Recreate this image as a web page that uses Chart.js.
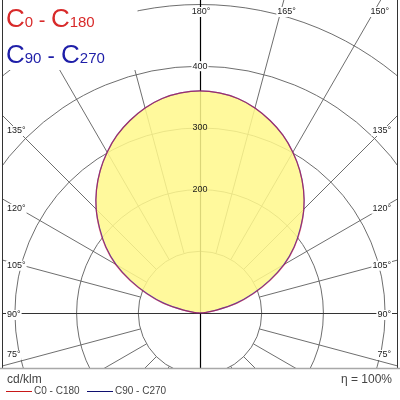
<!DOCTYPE html>
<html><head><meta charset="utf-8">
<script src="https://cdn.jsdelivr.net/npm/chart.js@4.4.0/dist/chart.umd.min.js"></script>
<style>html,body{margin:0;padding:0;background:#fff;}#wrap{width:400px;height:400px;position:relative;}</style>
</head><body>
<div id="wrap"><canvas id="c" width="400" height="400"></canvas></div>
<script>
// ---- data ----
const gammaDeg = [90, 95, 100, 105, 110, 115, 120, 125, 130, 135, 140, 145, 150, 155, 160, 165, 170, 175, 180];
const c0c180   = [0, 8, 29, 63, 93, 126, 159, 187, 213, 238, 261, 282, 301, 318, 332, 344, 353, 358, 360];
const c90c270  = [0, 7, 27, 60, 91, 124, 157, 186, 212, 238, 261, 282, 301, 318, 332, 344, 353, 358, 360];
const ringValues = [100, 200, 300, 400, 500];
const ringLabelValues = [200, 300, 400];
const angleLabelValues = [75, 90, 105, 120, 135, 150, 165, 180];
const seriesNames = ['C0 - C180', 'C90 - C270'];
const unitLabel = 'cd/klm';
const efficiencyLabel = 'η = 100%';

// ---- layout ----
const CX = 200, CY = 313, PX_PER_UNIT = 0.617;
const FRAME = {left: 2.5, right: 397.5, bottom: 368.5};
const RED = '#d82a2a', BLUE = '#1e1ea8';
const FONT = '"Liberation Sans", Arial, sans-serif';

function polarLoop(vals) {
  const pts = [];
  for (let i = 0; i < gammaDeg.length; i++) {
    const g = gammaDeg[i] * Math.PI / 180;
    pts.push({x: -vals[i] * Math.sin(g), y: -vals[i] * Math.cos(g)});
  }
  for (let i = gammaDeg.length - 2; i >= 0; i--) {
    const g = gammaDeg[i] * Math.PI / 180;
    pts.push({x: vals[i] * Math.sin(g), y: -vals[i] * Math.cos(g)});
  }
  return pts;
}

const gridPlugin = {
  id: 'polarGrid',
  beforeDraw(chart) {
    const ctx = chart.ctx, xs = chart.scales.x, ys = chart.scales.y;
    const cx = xs.getPixelForValue(0), cy = ys.getPixelForValue(0);
    const k = xs.getPixelForValue(1) - cx;
    ctx.save();
    ctx.fillStyle = '#fff'; ctx.fillRect(0, 0, chart.width, chart.height);
    ctx.beginPath(); ctx.rect(FRAME.left, 0, FRAME.right - FRAME.left, FRAME.bottom); ctx.clip();
    ctx.strokeStyle = '#5e5e5e'; ctx.lineWidth = 0.9;
    ringValues.forEach(v => { ctx.beginPath(); ctx.arc(cx, cy, v * k, 0, Math.PI * 2); ctx.stroke(); });
    ctx.beginPath();
    for (let g = 15; g < 180; g += 15) {
      if (g === 90) continue;
      const a = g * Math.PI / 180;
      for (const s of [-1, 1]) {
        const dx = s * Math.sin(a), dy = Math.cos(a);
        const r0 = ringValues[0] * k, r1 = 1000;
        ctx.moveTo(cx + dx * r0, cy + dy * r0);
        ctx.lineTo(cx + dx * r1, cy + dy * r1);
      }
    }
    ctx.stroke();
    ctx.strokeStyle = '#333'; ctx.lineWidth = 1;
    ctx.beginPath(); ctx.moveTo(0, cy + 0.5); ctx.lineTo(chart.width, cy + 0.5); ctx.stroke();
    ctx.strokeStyle = '#000'; ctx.lineWidth = 1.2;
    ctx.beginPath(); ctx.moveTo(cx + 0.5, 0); ctx.lineTo(cx + 0.5, chart.height); ctx.stroke();
    ctx.restore();
    // frame
    ctx.save();
    ctx.strokeStyle = '#333'; ctx.lineWidth = 1;
    ctx.beginPath();
    ctx.moveTo(FRAME.left, 0); ctx.lineTo(FRAME.left, FRAME.bottom);
    ctx.moveTo(FRAME.right, 0); ctx.lineTo(FRAME.right, FRAME.bottom);
    ctx.stroke();
    ctx.strokeStyle = '#a8a8a8'; ctx.lineWidth = 1.5;
    ctx.beginPath(); ctx.moveTo(0, FRAME.bottom); ctx.lineTo(chart.width, FRAME.bottom); ctx.stroke();
    ctx.restore();
  }
};

function label(ctx, text, x, y, align, bg) {
  ctx.font = '9px ' + FONT;
  const w = ctx.measureText(text).width;
  const x0 = align === 'left' ? x : align === 'right' ? x - w : x - w / 2;
  if (bg) { ctx.fillStyle = bg; ctx.fillRect(x0 - 1, y - 5, w + 2, 10); }
  ctx.fillStyle = '#1a1a1a'; ctx.textAlign = 'left'; ctx.textBaseline = 'middle';
  ctx.fillText(text, x0, y);
}

const labelPlugin = {
  id: 'polarLabels',
  afterDatasetsDraw(chart) {
    const ctx = chart.ctx, xs = chart.scales.x, ys = chart.scales.y;
    const cx = xs.getPixelForValue(0), cy = ys.getPixelForValue(0);
    const k = xs.getPixelForValue(1) - cx;
    const maxI = Math.max(...c0c180, ...c90c270);
    ctx.save();
    ringLabelValues.forEach(v => {
      label(ctx, String(v), cx, cy - v * k, 'center', v > maxI ? '#fff' : null);
    });
    angleLabelValues.forEach(g => {
      const a = g * Math.PI / 180;
      const sides = g === 180 ? [1] : [-1, 1];
      sides.forEach(s => {
        const sin = Math.sin(a), cos = Math.cos(a);
        const t1 = sin > 1e-6 ? 184 / sin : Infinity;
        const y1 = cy + t1 * cos;
        if (!(y1 >= 12)) {
          const t2 = (cy - 12) / (-cos);
          const x2 = cx + s * t2 * sin + (g === 180 ? 1 : s * 6);
          label(ctx, g + '°', x2, 12, 'center', '#fff');
        } else {
          const y = Math.min(y1 + 2, 355);
          if (s < 0) label(ctx, g + '°', 7, y, 'left', '#fff');
          else label(ctx, g + '°', 391, y, 'right', '#fff');
        }
      });
    });
    ctx.restore();
  },
  afterDraw(chart) {
    const ctx = chart.ctx;
    ctx.save();
    // title box
    ctx.fillStyle = '#fff'; ctx.fillRect(3.5, 0, 134, 70);
    function seg(parts, x, y, color) {
      ctx.fillStyle = color; ctx.textBaseline = 'alphabetic'; ctx.textAlign = 'left';
      parts.forEach(([t, size]) => {
        ctx.font = size + 'px ' + FONT;
        ctx.fillText(t, x, y);
        x += ctx.measureText(t).width;
      });
    }
    seg([['C', 26], ['0', 15], [' - ', 20], ['C', 26], ['180', 15]], 6, 27, RED);
    seg([['C', 26], ['90', 15], [' - ', 22], ['C', 26], ['270', 15]], 6, 62.5, BLUE);
    // bottom texts
    ctx.fillStyle = '#444'; ctx.font = '12px ' + FONT; ctx.textBaseline = 'alphabetic';
    ctx.fillText(unitLabel, 7, 383);
    ctx.textAlign = 'right';
    ctx.fillText(efficiencyLabel, 392, 383);
    ctx.textAlign = 'left'; ctx.textBaseline = 'middle'; ctx.font = '10px ' + FONT;
    const legendItems = [[seriesNames[0], '#c81818', 6], [seriesNames[1], '#101070', 87]];
    legendItems.forEach(([t, col, x]) => {
      ctx.strokeStyle = col; ctx.lineWidth = 1;
      ctx.beginPath(); ctx.moveTo(x, 391.5); ctx.lineTo(x + 26, 391.5); ctx.stroke();
      ctx.fillStyle = '#444'; ctx.fillText(t, x + 28, 391);
    });
    ctx.restore();
  }
};

new Chart(document.getElementById('c'), {
  type: 'scatter',
  data: {
    datasets: [
      {label: seriesNames[0], data: polarLoop(c0c180), showLine: true, borderColor: 'rgba(230,20,20,0.5)',
       borderWidth: 1.2, pointRadius: 0, tension: 0.35, fill: false},
      {label: seriesNames[1], data: polarLoop(c90c270), showLine: true, borderColor: 'rgba(50,40,190,0.85)',
       borderWidth: 1.2, pointRadius: 0, tension: 0.35, fill: 'shape', backgroundColor: 'rgba(255,248,140,0.86)'}
    ]
  },
  options: {
    responsive: false, animation: false, devicePixelRatio: 1,
    layout: {padding: 0},
    plugins: {legend: {display: false}, tooltip: {enabled: false}, title: {display: false}},
    scales: {
      x: {type: 'linear', display: false, min: -CX / PX_PER_UNIT, max: (400 - CX) / PX_PER_UNIT},
      y: {type: 'linear', display: false, min: -(400 - CY) / PX_PER_UNIT, max: CY / PX_PER_UNIT}
    }
  },
  plugins: [gridPlugin, labelPlugin]
});
</script>
</body></html>
